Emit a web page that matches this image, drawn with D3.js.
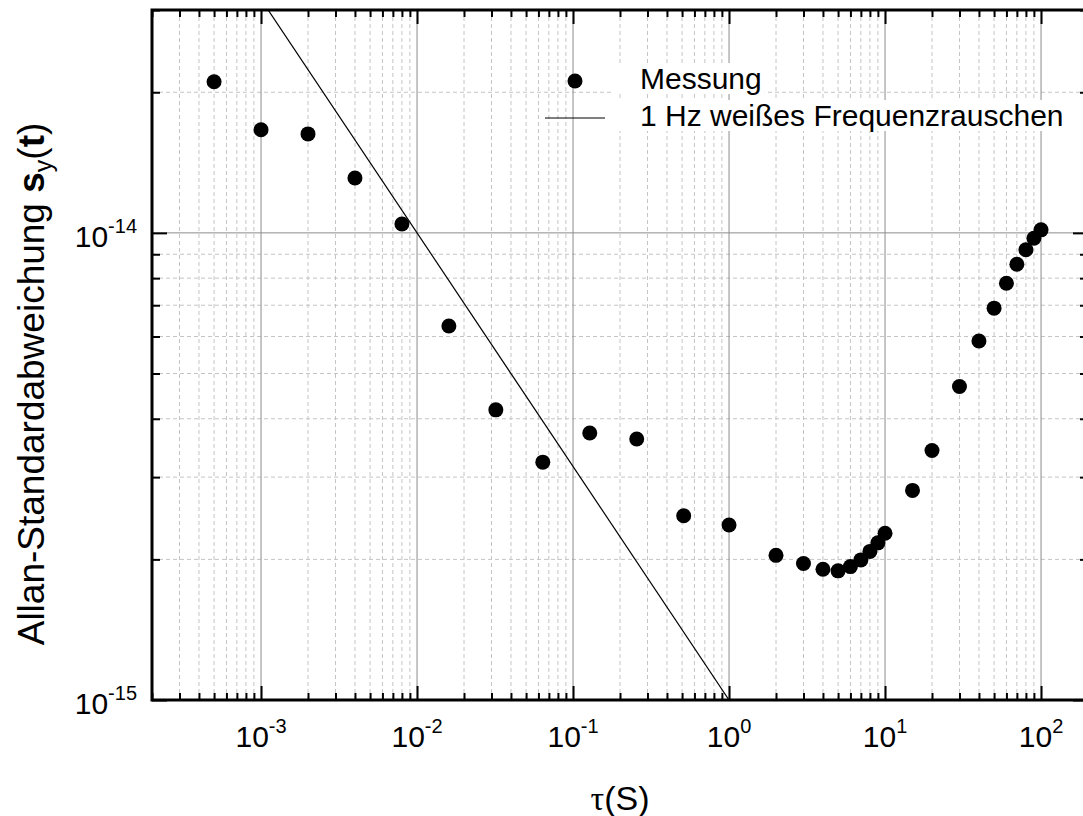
<!DOCTYPE html>
<html>
<head>
<meta charset="utf-8">
<script src="https://cdn.jsdelivr.net/npm/d3@7"></script>
<style>
  body { margin: 0; background: #fff; }
  svg { display: block; font-family: "Liberation Sans", Arial, sans-serif; }
</style>
</head>
<body>
<div id="chart"></div>
<script>
const WIDTH = 1083, HEIGHT = 816;
const PLOT = {left: 152, top: 10, right: 1088, bottom: 700};

// measured points: tau (s) and Allan deviation
const TAU = [5e-4, 1e-3, 2e-3, 4e-3, 8e-3, 1.6e-2, 3.2e-2, 6.4e-2, 0.128, 0.256, 0.512, 1,
             2, 3, 4, 5, 6, 7, 8, 9, 10, 15, 20, 30, 40, 50, 60, 70, 80, 90, 100];
const SIGMA = [2.106e-14, 1.662e-14, 1.629e-14, 1.311e-14, 1.045e-14, 6.32e-15, 4.18e-15, 3.23e-15,
               3.73e-15, 3.62e-15, 2.48e-15, 2.37e-15,
               2.04e-15, 1.96e-15, 1.905e-15, 1.89e-15, 1.93e-15, 1.995e-15, 2.08e-15, 2.17e-15, 2.275e-15,
               2.81e-15, 3.42e-15, 4.69e-15, 5.87e-15, 6.90e-15, 7.80e-15, 8.57e-15, 9.20e-15, 9.74e-15, 1.015e-14];

// 1 Hz white frequency noise reference line (end points)
const LINE_TAU = [1e-3, 1];
const LINE_SIGMA = [3.162e-14, 1e-15];

const X_DOMAIN = [2e-4, 200];
const Y_DOMAIN = [1e-15, 3e-14];
const X_MAJOR = [1e-3, 1e-2, 1e-1, 1e0, 1e1, 1e2];
const X_EXP = ["-3", "-2", "-1", "0", "1", "2"];
const Y_MAJOR = [1e-15, 1e-14];
const Y_EXP = ["-15", "-14"];

const LEGEND = ["Messung", "1 Hz weißes Frequenzrauschen"];

const svg = d3.select("#chart").append("svg")
  .attr("width", WIDTH).attr("height", HEIGHT);

const x = d3.scaleLog().domain(X_DOMAIN).range([PLOT.left, PLOT.right]);
const y = d3.scaleLog().domain(Y_DOMAIN).range([PLOT.bottom, PLOT.top]);

const isMajor = v => Math.abs(Math.log10(v) - Math.round(Math.log10(v))) < 1e-6;
const xMinor = x.ticks().filter(v => !isMajor(v));
const yMinor = y.ticks().filter(v => !isMajor(v));

const pw = PLOT.right - PLOT.left, ph = PLOT.bottom - PLOT.top;

// grid: minor dashed
const grid = svg.append("g");
grid.selectAll(".vmin").data(xMinor).enter().append("line")
  .attr("x1", d => x(d)).attr("x2", d => x(d))
  .attr("y1", PLOT.top).attr("y2", PLOT.bottom)
  .attr("stroke", "#c4c4c4").attr("stroke-dasharray", "4,3");
grid.selectAll(".hmin").data(yMinor).enter().append("line")
  .attr("y1", d => y(d)).attr("y2", d => y(d))
  .attr("x1", PLOT.left).attr("x2", PLOT.right)
  .attr("stroke", "#c4c4c4").attr("stroke-dasharray", "4,3");
// grid: major solid
grid.selectAll(".vmaj").data(X_MAJOR).enter().append("line")
  .attr("x1", d => x(d)).attr("x2", d => x(d))
  .attr("y1", PLOT.top).attr("y2", PLOT.bottom)
  .attr("stroke", "#8c8c8c");
grid.selectAll(".hmaj").data(Y_MAJOR).enter().append("line")
  .attr("y1", d => y(d)).attr("y2", d => y(d))
  .attr("x1", PLOT.left).attr("x2", PLOT.right)
  .attr("stroke", "#8c8c8c");

// clip
svg.append("clipPath").attr("id", "clip").append("rect")
  .attr("x", PLOT.left).attr("y", PLOT.top).attr("width", pw).attr("height", ph);

// white FM line
const lineData = LINE_TAU.map((t, i) => [t, LINE_SIGMA[i]]);
svg.append("path")
  .datum(lineData)
  .attr("clip-path", "url(#clip)")
  .attr("fill", "none").attr("stroke", "#000").attr("stroke-width", 1.2)
  .attr("d", d3.line().x(d => x(d[0])).y(d => y(d[1])));

// legend (text boxes hide grid)
const leg = svg.append("g");
const legText = leg.selectAll("text").data(LEGEND).enter().append("text")
  .attr("x", 640).attr("y", (d, i) => 89 + i * 37)
  .attr("font-size", 30).text(d => d);
legText.each(function() {
  const b = this.getBBox();
  leg.insert("rect", "text")
    .attr("x", b.x - 27).attr("y", b.y + 1).attr("width", b.width + 30).attr("height", b.height - 2)
    .attr("fill", "#fff");
});
leg.append("circle").attr("cx", 575).attr("cy", 81).attr("r", 7.5).attr("fill", "#000");
leg.append("line").attr("x1", 545).attr("x2", 605).attr("y1", 118).attr("y2", 118)
  .attr("stroke", "#000").attr("stroke-width", 1.2);

// measured points
svg.append("g").selectAll("circle")
  .data(TAU.map((t, i) => [t, SIGMA[i]]))
  .enter().append("circle")
  .attr("cx", d => x(d[0])).attr("cy", d => y(d[1]))
  .attr("r", 7.5).attr("fill", "#000");

// axes with inward ticks
function tickAxis(axisFn, scale, values, size, translate) {
  svg.append("g")
    .attr("transform", translate)
    .call(axisFn(scale).tickValues(values).tickSize(size).tickFormat(""))
    .call(g => g.select(".domain").remove())
    .call(g => g.selectAll(".tick line").attr("stroke", "#000").attr("stroke-width", 2));
}
tickAxis(d3.axisBottom, x, X_MAJOR, -14, `translate(0,${PLOT.bottom})`);
tickAxis(d3.axisBottom, x, xMinor, -7, `translate(0,${PLOT.bottom})`);
tickAxis(d3.axisTop, x, X_MAJOR, -14, `translate(0,${PLOT.top})`);
tickAxis(d3.axisTop, x, xMinor, -7, `translate(0,${PLOT.top})`);
tickAxis(d3.axisLeft, y, Y_MAJOR, -15, `translate(${PLOT.left},0)`);
tickAxis(d3.axisLeft, y, yMinor, -8, `translate(${PLOT.left},0)`);
tickAxis(d3.axisRight, y, Y_MAJOR, -15, `translate(${PLOT.right},0)`);
tickAxis(d3.axisRight, y, yMinor, -8, `translate(${PLOT.right},0)`);

// frame
svg.append("rect")
  .attr("x", PLOT.left).attr("y", PLOT.top).attr("width", pw).attr("height", ph)
  .attr("fill", "none").attr("stroke", "#000").attr("stroke-width", 3);

// tick labels
const xl = svg.append("g").selectAll("text").data(X_MAJOR).enter().append("text")
  .attr("x", d => x(d)).attr("y", 747)
  .attr("text-anchor", "middle").attr("font-size", 30);
xl.append("tspan").text("10");
xl.append("tspan").attr("dy", -14).attr("font-size", 20).text((d, i) => X_EXP[i]);

const yl = svg.append("g").selectAll("text").data(Y_MAJOR).enter().append("text")
  .attr("x", 137).attr("y", d => y(d) + 14)
  .attr("text-anchor", "end").attr("font-size", 30);
yl.append("tspan").text("10");
yl.append("tspan").attr("dy", -14).attr("font-size", 20).text((d, i) => Y_EXP[i]);

// axis titles
const xt = svg.append("text")
  .attr("x", (PLOT.left + PLOT.right) / 2).attr("y", 810)
  .attr("text-anchor", "middle").attr("font-size", 34);
xt.append("tspan").attr("font-family", "Liberation Serif, serif").text("τ");
xt.append("tspan").text("(S)");

const yt = svg.append("text")
  .attr("transform", "translate(44,384) rotate(-90)")
  .attr("text-anchor", "middle").attr("font-size", 37);
yt.append("tspan").text("Allan-Standardabweichung ");
yt.append("tspan").attr("font-weight", "bold").text("s");
yt.append("tspan").attr("dy", 8).attr("font-size", 25).text("y");
yt.append("tspan").attr("dy", -8).text("(");
yt.append("tspan").attr("font-weight", "bold").text("t");
yt.append("tspan").text(")");
</script>
</body>
</html>
